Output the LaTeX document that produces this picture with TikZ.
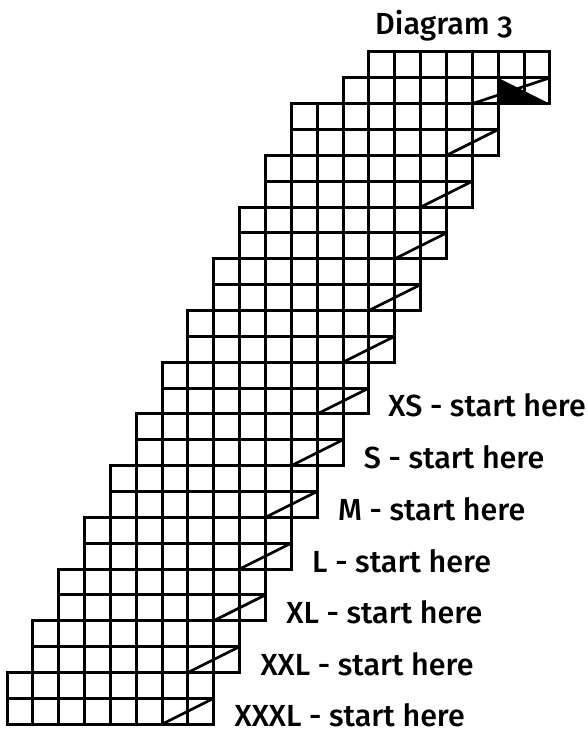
\documentclass[tikz,border=0pt]{standalone}
\usepackage{fontspec}
\setmainfont{Fira Sans Medium}[Numbers=OldStyle]
\begin{document}
\begin{tikzpicture}[x=25.85pt,y=-25.85pt,
  gridline/.style={line width=3pt,line cap=rect},
  diagline/.style={line width=2.7pt},
  sizelabel/.style={anchor=base west,inner sep=0pt,font=\fontsize{30.5}{36}\selectfont}]
\useasboundingbox (-0.2708,-2.0116) rectangle (22.437,26.344);
% black triangle at top
\fill[black] (19,1) -- (19,2) -- (21,2) -- cycle;
% top two rows
\draw[gridline] (14,0) -- (21,0);
\draw[gridline] (13,1) -- (21,1);
\draw[gridline] (13,2) -- (21,2);
\foreach \c in {14,...,21} \draw[gridline] (\c,0) -- (\c,1);
\foreach \c in {13,...,21} \draw[gridline] (\c,1) -- (\c,2);
\draw[diagline] (18,2) -- (21,1);
% remaining pairs of rows
\foreach \k in {1,...,12}{
  \pgfmathtruncatemacro{\L}{12-\k}
  \pgfmathtruncatemacro{\R}{20-\k}
  \pgfmathtruncatemacro{\ra}{2*\k}
  \pgfmathtruncatemacro{\rb}{2*\k+1}
  \pgfmathtruncatemacro{\rc}{2*\k+2}
  \pgfmathtruncatemacro{\Rm}{\R-2}
  \draw[gridline] (\L,\ra) -- (\R,\ra);
  \draw[gridline] (\L,\rb) -- (\R,\rb);
  \draw[gridline] (\L,\rc) -- (\R,\rc);
  \foreach \c in {\L,...,\R} \draw[gridline] (\c,\ra) -- (\c,\rc);
  \draw[diagline] (\Rm,\rc) -- (\R,\rb);
}
% labels
\node[sizelabel] (title) at (14.236,-0.658) {Diagram 3};
\node[sizelabel] (xs)   at (14.75,14.116) {XS - start here};
\node[sizelabel] (s)    at (13.8,16.116) {S - start here};
\node[sizelabel] (m)    at (12.8,18.116) {M - start here};
\node[sizelabel] (l)    at (11.8,20.116) {L - start here};
\node[sizelabel] (xl)   at (10.8,22.116) {XL - start here};
\node[sizelabel] (xxl)  at (9.8,24.116) {XXL - start here};
\node[sizelabel] (xxxl) at (8.8,26.08) {XXXL - start here};
\end{tikzpicture}
\end{document}
